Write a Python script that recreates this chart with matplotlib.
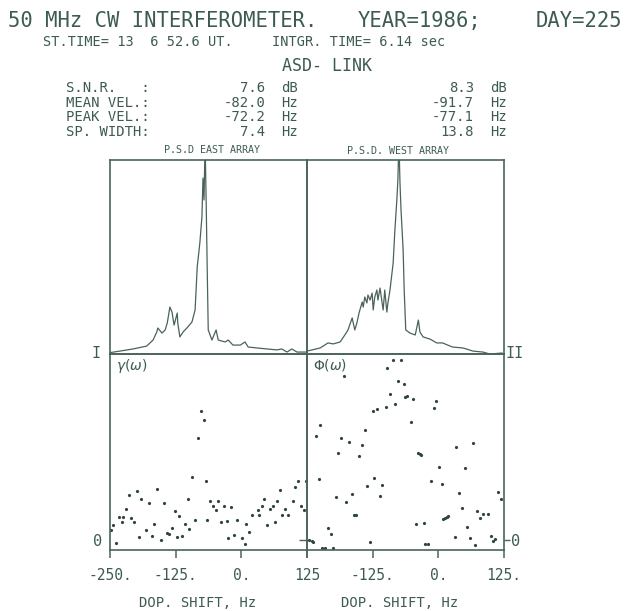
import numpy as np
import matplotlib
matplotlib.use('Agg')
import matplotlib.pyplot as plt

# PSD east array (Hz, relative power 0-100, top of frame = 100)
east_f = [-250, -206, -180, -168, -161, -159, -151, -145, -141, -136, -132, -128, -122, -121,
          -117, -111, -102, -94, -88, -84, -79, -75, -73, -71, -69, -67, -65, -63, -56, -48,
          -44, -31, -25, -16, -2, 7, 13, 30, 49, 68, 77, 87, 96, 106, 125]
east_p = [0.7, 2.6, 4.1, 7.2, 11.3, 13.4, 10.8, 12.4, 16.0, 24.2, 21.6, 14.9, 21.1, 16.0,
          8.8, 11.3, 13.9, 16.5, 22.7, 44.8, 57.2, 70.6, 90.7, 79.4, 110, 79.4, 44.8, 12.4, 7.2, 12.4,
          7.2, 6.2, 7.2, 4.6, 4.6, 6.2, 3.6, 3.1, 2.6, 2.1, 2.6, 1.0, 2.6, 1.0, 1.0]

# PSD west array
west_f = [-250, -225, -210, -200, -187, -178, -172, -164, -162, -159, -155, -151, -145, -143,
          -140, -136, -134, -130, -126, -124, -121, -117, -115, -111, -107, -105, -102, -98,
          -96, -92, -86, -83, -79, -77, -75, -73, -71, -67, -65, -62, -54, -44, -38, -35,
          -29, -16, -3, 8, 27, 47, 66, 85, 98, 121]
west_p = [1.5, 3.1, 5.7, 5.2, 6.2, 9.8, 12.4, 18.6, 16.0, 12.4, 16.0, 21.1, 26.8, 24.2,
          29.4, 26.3, 30.4, 27.8, 31.4, 22.7, 29.4, 33.0, 27.8, 34.0, 26.3, 22.7, 33.0, 21.6,
          26.3, 33.0, 46.9, 62.4, 79.4, 89.7, 110, 88.1, 74.2, 53.6, 33.0, 12.4, 10.8, 9.8, 17.5, 11.3,
          8.8, 7.7, 5.7, 5.7, 3.6, 3.1, 1.5, 1.0, 0.0, 0.5]

# coherence gamma(omega)
gam_f = [-249, -243.6, -239.2, -232.9, -225.9, -227.8, -219.5, -214.5, -210.0, -204.3, -199.2,
         -194.2, -191.6, -181.5, -175.8, -170.7, -165.6, -159.9, -152.9, -147.2, -142.1, -137.7,
         -131.3, -126.3, -123.1, -118.6, -112.9, -107.9, -102.2, -99.0, -93.9, -88.2, -83.1,
         -77.4, -71.7, -67.2, -64.7, -59.0, -53.9, -48.9, -43.8, -38.7, -33.0, -27.3, -25.4,
         -19.7, -14.6, -8.9, 1.3, 6.3, 9.5, 14.6, 20.3, 31.1, 33.0, 38.7, 43.8, 48.9, 54.6,
         59.7, 64.7, 67.3, 73.0, 78.1, 83.1, 88.8, 98.9, 102.2, 107.9, 113.6, 119.3, 122.5]
gam_v = [0.054, 0.081, -0.014, 0.125, 0.125, 0.095, 0.168, 0.244, 0.117, 0.095, 0.264,
         0.014, 0.220, 0.052, 0.197, 0.022, 0.088, 0.272, 0.000, 0.197, 0.038, 0.030,
         0.066, 0.154, 0.016, 0.131, 0.022, 0.088, 0.220, 0.057, 0.337, 0.109, 0.550,
         0.694, 0.647, 0.315, 0.108, 0.212, 0.183, 0.160, 0.212, 0.095, 0.183, 0.102, 0.013,
         0.176, 0.029, 0.109, 0.013, -0.023, 0.088, 0.043, 0.133, 0.160, 0.133, 0.183, 0.220, 0.081, 0.168,
         0.183, 0.095, 0.212, 0.271, 0.133, 0.168, 0.133, 0.212, 0.285, 0.315, 0.183, 0.161, 0.315]

# phase Phi(omega)
phi_f = [-232.9, -224.6, -227.8, -245.6, -241.1, -237.9, -220.8, -215.7, -199.9, -209.4, -205.0,
         -194.8, -190.4, -185.9, -180.2, -175.1, -169.4, -164.3, -159.9, -156.7, -151.0, -145.3,
         -140.2, -135.2, -130.1, -125.0, -122.5, -116.1, -111.7, -106.6, -99.6, -97.1, -92.0,
         -86.9, -81.9, -76.8, -71.1, -66.0, -62.8, -59.6, -52.7, -47.6, -43.1, -38.1, -34.9,
         -32.4, -27.3, -24.8, -19.7, -14.0, -8.9, -3.8, 1.9, 7.6, 9.5, 12.7, 15.9, 19.0, 31.1,
         34.3, 39.4, 44.4, 50.1, 55.2, 60.9, 66.6, 69.2, 73.6, 79.3, 84.4, 94.5, 100.3, 103.4,
         107.9, 113.6, 118.7]
phi_v = [0.557, 0.617, 0.328, 0.000, -0.004, -0.009, -0.043, -0.043, -0.043, 0.063, 0.034,
         0.233, 0.468, 0.548, 0.882, 0.203, 0.527, 0.246, 0.136, 0.136, 0.452, 0.511,
         0.591, 0.290, -0.013, 0.695, 0.333, 0.703, 0.238, 0.298, 0.717, 0.923, 0.783,
         0.968, 0.733, 0.857, 0.968, 0.841, 0.769, 0.774, 0.636, 0.760, 0.084, 0.466, 0.461,
         0.457, 0.091, -0.020, -0.020, 0.317, 0.710, 0.746, 0.393, 0.303, 0.111, 0.117, 0.122, 0.127, 0.016,
         0.502, 0.251, 0.172, 0.389, 0.068, 0.009, 0.523, -0.029, 0.156, 0.120, 0.140, 0.140, 0.023, -0.007,
         0.007, 0.258, 0.222]

left_ticks = [-250, -125, 0, 125]
left_labels = ['-250.', '-125.', '0.', '125']
right_labels = ['', '-125.', '0.', '125.']

ink = '#4a635a'
txt = '#3d5b52'
mono = 'DejaVu Sans Mono'
W, H = 625, 611

fig = plt.figure(figsize=(W / 100, H / 100), dpi=100)
fig.patch.set_facecolor('white')

def box(x0, y0, x1, y1):
    return [x0 / W, 1 - y1 / H, (x1 - x0) / W, (y1 - y0) / H]

def ftext(x, y, s, size, ha='left', **kw):
    fig.text(x / W, 1 - y / H, s, fontsize=size, ha=ha, va='center', color=txt,
             family=mono, **kw)

ax_e = fig.add_axes(box(110, 160, 307, 354))
ax_w = fig.add_axes(box(307, 160, 504, 354))
ax_g = fig.add_axes(box(110, 354, 307, 550))
ax_p = fig.add_axes(box(307, 354, 504, 550))

ax_e.plot(east_f, east_p, color=ink, lw=0.9)
ax_w.plot(west_f, west_p, color=ink, lw=0.9)
ax_g.plot(gam_f, gam_v, 'o', color='#2f4640', ms=2.3, mec='none')
ax_p.plot(phi_f, phi_v, 'o', color='#2f4640', ms=2.3, mec='none')

for ax in (ax_e, ax_w, ax_g, ax_p):
    ax.set_xlim(-250, 125)
    for s in ax.spines.values():
        s.set_color(ink)
        s.set_linewidth(1.2)
    ax.set_facecolor('none')

for ax in (ax_e, ax_w):
    ax.set_ylim(0, 100)
    ax.set_xticks([])
    ax.set_yticks([])

for ax, labs in ((ax_g, left_labels), (ax_p, right_labels)):
    ax.set_ylim(-0.054, 1.0)
    ax.set_xticks(left_ticks)
    ax.set_xticklabels(labs, fontsize=10.5, color=txt, family=mono)
    ax.tick_params(axis='x', direction='out', length=6, width=1.1, color=ink, pad=7)

ax_g.set_yticks([0])
ax_g.set_yticklabels(['0'], fontsize=11, color=txt, family=mono)
ax_g.tick_params(axis='y', left=False, right=True, direction='in', length=6,
                 width=1.0, color=ink, pad=6)
ax_p.set_yticks([0])
ax_p.yaxis.tick_right()
ax_p.set_yticklabels(['0'], fontsize=11, color=txt, family=mono)
ax_p.tick_params(axis='y', direction='out', length=4, width=1.0, color=ink, pad=1)

ax_g.text(0.03, 0.92, r'$\gamma(\omega)$', transform=ax_g.transAxes, fontsize=10, color=txt)
ax_p.text(0.03, 0.92, r'$\Phi(\omega)$', transform=ax_p.transAxes, fontsize=10, color=txt)

# header text
ftext(8, 21, '50 MHz CW INTERFEROMETER.', 14.8)
ftext(358, 21, 'YEAR=1986;', 14.8)
ftext(622, 21, 'DAY=225', 14.8, ha='right')
ftext(43, 42, 'ST.TIME= 13  6 52.6 UT.', 9.8)
ftext(272, 42, 'INTGR. TIME= 6.14 sec', 9.8)
ftext(282, 66, 'ASD- LINK', 12)

rows = ['S.N.R.   :', 'MEAN VEL.:', 'PEAK VEL.:', 'SP. WIDTH:']
east_vals = ['7.6', '-82.0', '-72.2', '7.4']
west_vals = ['8.3', '-91.7', '-77.1', '13.8']
units = ['dB', 'Hz', 'Hz', 'Hz']
for i, y in enumerate([88, 103, 117, 132]):
    ftext(66, y, rows[i], 10)
    ftext(265, y, east_vals[i], 10, ha='right')
    ftext(281, y, units[i], 10)
    ftext(474, y, west_vals[i], 10, ha='right')
    ftext(490, y, units[i], 10)

ftext(212, 150, 'P.S.D EAST ARRAY', 7.2, ha='center')
ftext(398, 151, 'P.S.D. WEST ARRAY', 7.2, ha='center')

ftext(96, 354, 'I', 11, ha='center')
ftext(515, 354, 'II', 11, ha='center')

ftext(198, 603, 'DOP. SHIFT, Hz', 10, ha='center')
ftext(400, 603, 'DOP. SHIFT, Hz', 10, ha='center')

fig.savefig('out.png', dpi=100, facecolor='white')
